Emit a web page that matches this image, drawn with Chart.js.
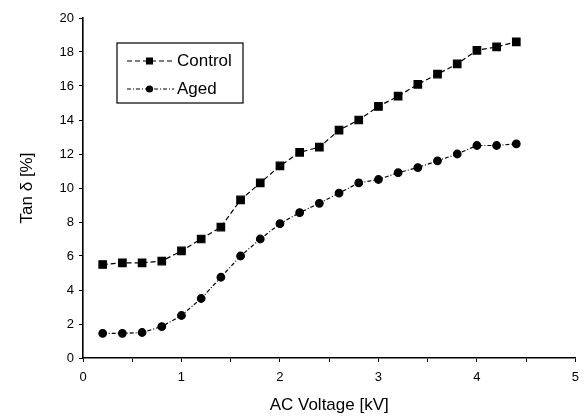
<!DOCTYPE html>
<html>
<head>
<meta charset="utf-8">
<script src="https://cdn.jsdelivr.net/npm/chart.js@4/dist/chart.umd.min.js"></script>
<style>
  html, body { margin: 0; padding: 0; background: #fff; }
  #wrap { width: 587px; height: 416px; }
</style>
</head>
<body>
<div id="wrap"><canvas id="tanChart" width="587" height="416"></canvas></div>
<script>
// data
const voltages = [0.2, 0.4, 0.6, 0.8, 1.0, 1.2, 1.4, 1.6, 1.8, 2.0, 2.2, 2.4, 2.6, 2.8, 3.0, 3.2, 3.4, 3.6, 3.8, 4.0, 4.2, 4.4];
const controlValues = [5.5, 5.6, 5.6, 5.7, 6.3, 7.0, 7.7, 9.3, 10.3, 11.3, 12.1, 12.4, 13.4, 14.0, 14.8, 15.4, 16.1, 16.7, 17.3, 18.1, 18.3, 18.6];
const agedValues = [1.45, 1.45, 1.5, 1.85, 2.5, 3.5, 4.75, 6.0, 7.0, 7.9, 8.55, 9.1, 9.7, 10.3, 10.5, 10.9, 11.2, 11.6, 12.0, 12.5, 12.5, 12.6];
const xTickLabels = [0, 1, 2, 3, 4, 5];
const yTickLabels = [0, 2, 4, 6, 8, 10, 12, 14, 16, 18, 20];

const FONT = "'Liberation Sans', Arial, sans-serif";

const toPoints = (vals) => vals.map((v, i) => ({ x: voltages[i], y: v }));

// legend drawn as a boxed key inside the plot, like the original
const boxedLegend = {
  id: "boxedLegend",
  afterDraw(chart) {
    const ctx = chart.ctx;
    const box = { x: 117, y: 43, w: 126, h: 60 };
    ctx.save();
    ctx.strokeStyle = "#000";
    ctx.lineWidth = 1.2;
    ctx.strokeRect(box.x, box.y, box.w, box.h);
    chart.data.datasets.forEach((ds, i) => {
      const y = 61 + i * 28;
      ctx.setLineDash(ds.borderDash || []);
      ctx.lineWidth = 1.2;
      ctx.beginPath();
      ctx.moveTo(127, y);
      ctx.lineTo(174, y);
      ctx.stroke();
      ctx.setLineDash([]);
      ctx.fillStyle = "#000";
      if (ds.pointStyle === "rect") {
        ctx.fillRect(146, y - 3.5, 7, 7);
      } else {
        ctx.beginPath();
        ctx.arc(149.5, y, 3.6, 0, Math.PI * 2);
        ctx.fill();
      }
      ctx.font = "17px " + FONT;
      ctx.textBaseline = "middle";
      ctx.fillText(ds.label, 177, y);
    });
    ctx.restore();
  },
};

new Chart(document.getElementById("tanChart"), {
  type: "scatter",
  data: {
    datasets: [
      {
        label: "Control",
        data: toPoints(controlValues),
        showLine: true,
        borderColor: "#000",
        backgroundColor: "#000",
        borderWidth: 1.2,
        borderDash: [5, 3],
        pointStyle: "rect",
        pointRadius: 5.3,
        pointHoverRadius: 5.3,
      },
      {
        label: "Aged",
        data: toPoints(agedValues),
        showLine: true,
        borderColor: "#000",
        backgroundColor: "#000",
        borderWidth: 1.2,
        borderDash: [4, 2, 1, 2],
        pointStyle: "circle",
        pointRadius: 3.8,
        pointHoverRadius: 3.8,
      },
    ],
  },
  options: {
    responsive: false,
    animation: false,
    layout: { padding: { top: 18, right: 11, left: 0, bottom: 0 } },
    plugins: {
      legend: { display: false },
      tooltip: { enabled: false },
    },
    scales: {
      x: {
        type: "linear",
        min: 0,
        max: 5,
        afterFit: (scale) => { scale.height = 58; },
        ticks: {
          stepSize: 0.5,
          color: "#000",
          padding: 8,
          font: { family: FONT, size: 13 },
          maxRotation: 0,
          callback: (v) => (xTickLabels.includes(v) ? String(v) : ""),
        },
        grid: {
          drawOnChartArea: false,
          tickLength: 4,
          tickColor: "#000",
          tickWidth: 1,
        },
        border: { color: "#000", width: 1.6 },
        title: {
          display: true,
          text: "AC Voltage [kV]",
          color: "#000",
          font: { family: FONT, size: 17 },
          padding: { top: 0, bottom: 0 },
        },
      },
      y: {
        min: 0,
        max: 20,
        afterFit: (scale) => { scale.width = 83; },
        ticks: {
          stepSize: 1,
          color: "#000",
          padding: 5,
          font: { family: FONT, size: 13 },
          callback: (v) => (yTickLabels.includes(v) ? String(v) : ""),
        },
        grid: {
          drawOnChartArea: false,
          tickLength: 4,
          tickColor: "#000",
          tickWidth: 1,
        },
        border: { color: "#000", width: 1.6 },
        title: {
          display: true,
          text: "Tan δ [%]",
          color: "#000",
          font: { family: FONT, size: 17 },
          padding: { top: 17, bottom: 0 },
        },
      },
    },
  },
  plugins: [boxedLegend],
});
</script>
</body>
</html>
